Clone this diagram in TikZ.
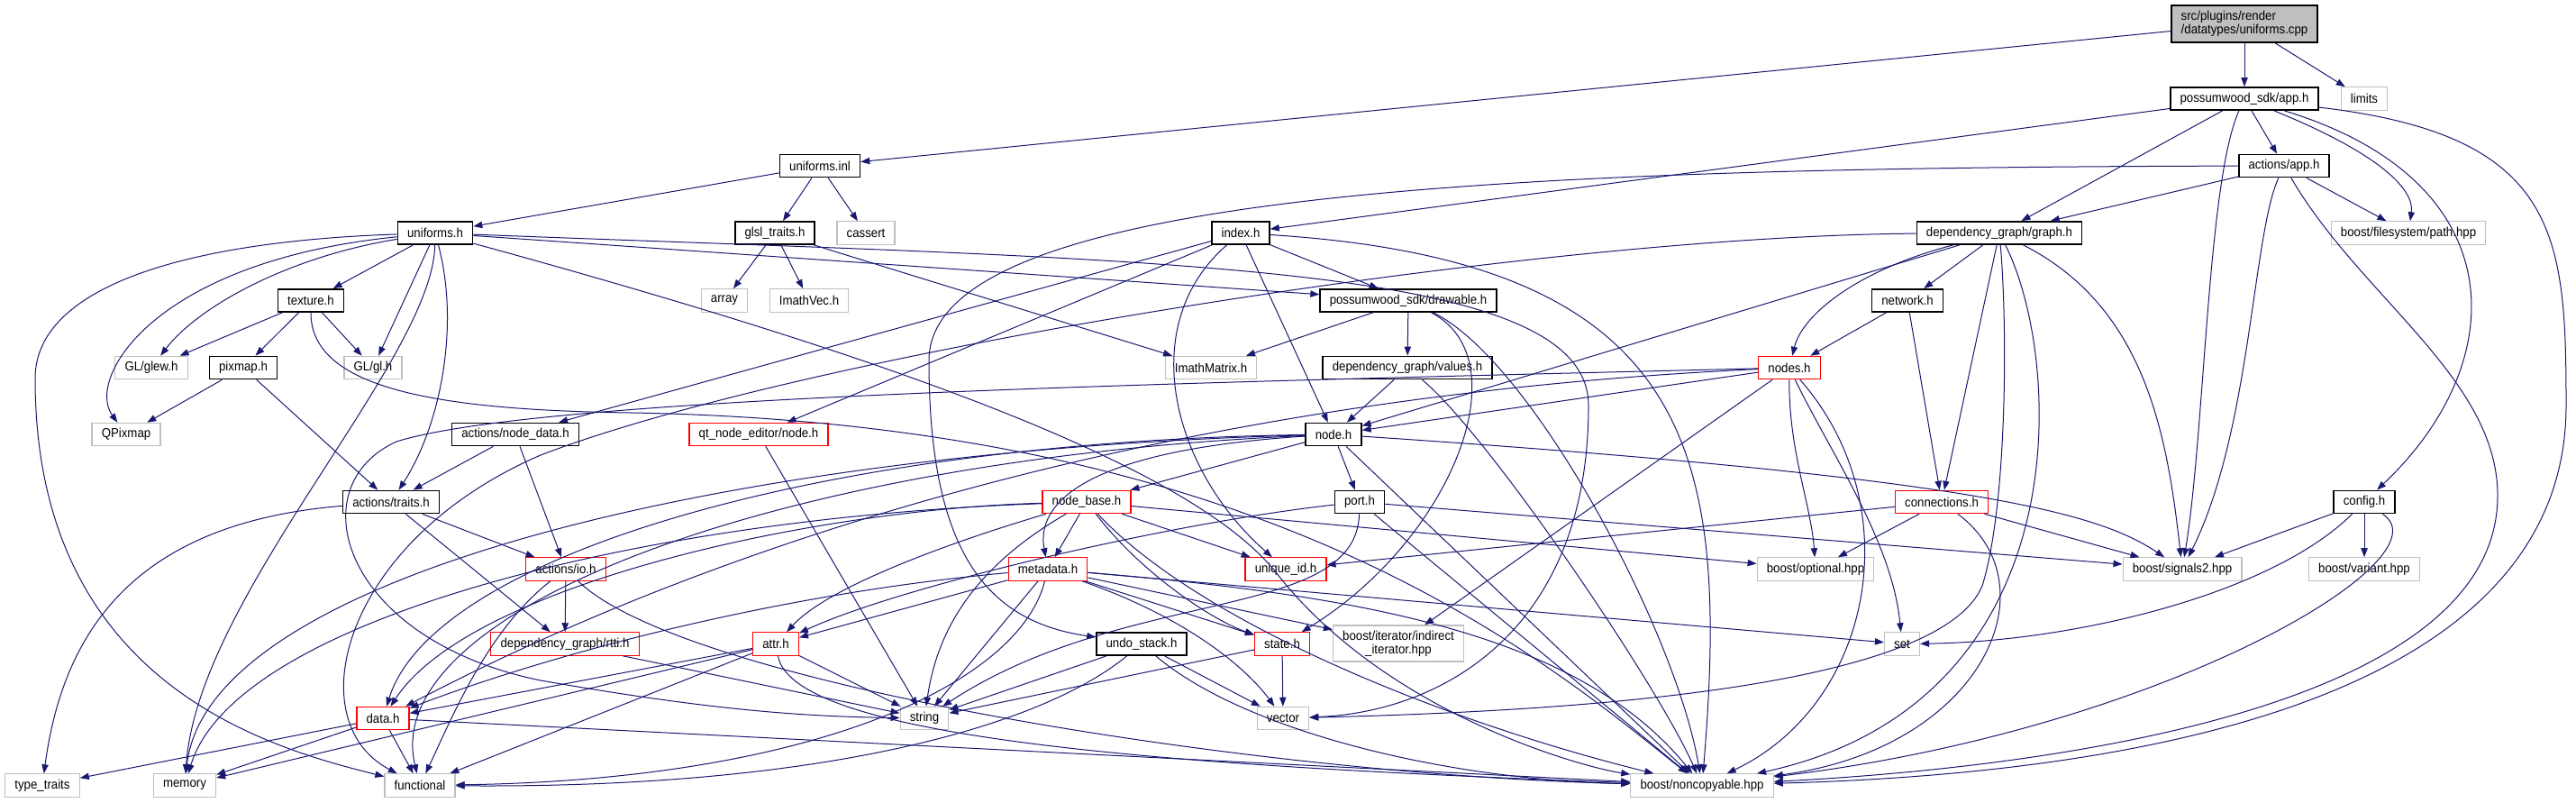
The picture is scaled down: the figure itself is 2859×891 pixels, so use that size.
\documentclass[tikz,border=0pt]{standalone}
\usepackage{fontspec}
\setmainfont{Liberation Sans}[FakeStretch=0.92]
\usetikzlibrary{arrows.meta}

\definecolor{edgeblue}{RGB}{25,25,112}
\definecolor{sysgray}{RGB}{191,191,191}

\tikzset{every picture/.style={line width=0.75pt}}
\tikzset{
  hdr/.style={draw=black,line width=1.1pt,rectangle,inner xsep=8pt,inner ysep=2pt,minimum height=19pt,font=\fontsize{10.8}{11.5}\selectfont},
  hdrred/.style={hdr,draw=red,line width=0.9pt},
  hdrsys/.style={hdr,draw=sysgray,line width=0.9pt},
  incl/.style={draw=edgeblue,line width=0.75pt,-{Triangle[length=7.5pt,width=5.5pt]}}
}

\begin{document}
\begin{tikzpicture}[x=0.75pt,y=0.75pt,yscale=-1,xscale=1]
\useasboundingbox (0,0) rectangle (2859,891);

%Nodes
\node[hdr,fill=sysgray,align=left,minimum height=31pt] (root) at (2491,26.5) {src/plugins/render\\/datatypes/uniforms.cpp};
\node[hdr] (apph) at (2491,109.5) {possumwood\_sdk/app.h};
\node[hdrsys] (limits) at (2624,109.5) {limits};
\node[hdr] (inl) at (910,184) {uniforms.inl};
\node[hdr] (actapp) at (2535,184) {actions/app.h};
\node[hdr] (unih) at (483,258.5) {uniforms.h};
\node[hdr] (glsl) at (860,258.5) {glsl\_traits.h};
\node[hdrsys] (cassert) at (961,258.5) {cassert};
\node[hdr] (index) at (1377,258.5) {index.h};
\node[hdr] (graph) at (2219,258.5) {dependency\_graph/graph.h};
\node[hdrsys] (path) at (2673,258.5) {boost/filesystem/path.hpp};
\node[hdr] (texture) at (345,333.5) {texture.h};
\node[hdrsys] (array) at (804,333.5) {array};
\node[hdrsys] (imathvec) at (898,333.5) {ImathVec.h};
\node[hdr] (drawable) at (1563,333.5) {possumwood\_sdk/drawable.h};
\node[hdr] (network) at (2117,333.5) {network.h};
\node[hdrsys] (glew) at (168,408) {GL/glew.h};
\node[hdr] (pixmap) at (270,408) {pixmap.h};
\node[hdrsys] (gl) at (414,408) {GL/gl.h};
\node[hdrsys] (imathmatrix) at (1344,408) {ImathMatrix.h};
\node[hdr] (values) at (1562,408) {dependency\_graph/values.h};
\node[hdrred] (nodes) at (1986,408) {nodes.h};
\node[hdrsys] (qpixmap) at (140,482) {QPixmap};
\node[hdr] (nodedata) at (572,482) {actions/node\_data.h};
\node[hdrred] (qtnode) at (842,482) {qt\_node\_editor/node.h};
\node[hdr] (node) at (1480,482) {node.h};
\node[hdr] (traits) at (434,557) {actions/traits.h};
\node[hdrred] (nodebase) at (1206,557) {node\_base.h};
\node[hdr] (port) at (1509,557) {port.h};
\node[hdrred] (connections) at (2155,557) {connections.h};
\node[hdr] (config) at (2624,557) {config.h};
\node[hdrred] (io) at (628,631.5) {actions/io.h};
\node[hdrred] (metadata) at (1163,631.5) {metadata.h};
\node[hdrred] (uniqueid) at (1427,631.5) {unique\_id.h};
\node[hdrsys] (optional) at (2015,631.5) {boost/optional.hpp};
\node[hdrsys] (signals) at (2422,631.5) {boost/signals2.hpp};
\node[hdrsys] (variant) at (2624,631.5) {boost/variant.hpp};
\node[hdrred] (rtti) at (627,714.5) {dependency\_graph/rtti.h};
\node[hdrred] (attr) at (861,714.5) {attr.h};
\node[hdr] (undo) at (1267,714.5) {undo\_stack.h};
\node[hdrred] (state) at (1423,714.5) {state.h};
\node[hdrsys,align=center,minimum height=30pt] (indirect) at (1552,714) {boost/iterator/indirect\\\_iterator.hpp};
\node[hdrsys] (set) at (2111,714.5) {set};
\node[hdrred] (data) at (425,797) {data.h};
\node[hdrsys] (string) at (1026,797) {string};
\node[hdrsys] (vector) at (1424,797) {vector};
\node[hdrsys] (typetraits) at (47,871.5) {type\_traits};
\node[hdrsys] (memory) at (205,871.5) {memory};
\node[hdrsys] (functional) at (466,871.5) {functional};
\node[hdrsys] (noncopy) at (1889,871.5) {boost/noncopyable.hpp};

%Edges: uniforms.cpp
\draw[incl] (root) -- (inl);
\draw[incl] (root) -- (apph);
\draw[incl] (root) -- (limits);
%Edges: uniforms.inl
\draw[incl] (inl) -- (unih);
\draw[incl] (inl) -- (glsl);
\draw[incl] (inl) -- (cassert);
%Edges: glsl_traits.h
\draw[incl] (glsl) -- (array);
\draw[incl] (glsl) -- (imathvec);
\draw[incl] (glsl) -- (imathmatrix);
%Edges: possumwood_sdk/app.h
\draw[incl] (apph) -- (index);
\draw[incl] (apph) -- (graph);
\draw[incl] (apph) -- (actapp);
\draw[incl] (apph) .. controls (2640,170) and (2680,210) .. (path);
\draw[incl] (apph) .. controls (2450,200) and (2447,480) .. (signals);
\draw[incl] (apph) .. controls (2790,200) and (2790,400) .. (config);
\draw[incl] (apph) .. controls (2840,150) and (2848,260) .. (2848,450) .. controls (2848,800) and (2300,860) .. (noncopy);
%Edges: actions/app.h
\draw[incl] (actapp) -- (graph);
\draw[incl] (actapp) -- (path);
\draw[incl] (actapp) .. controls (2500,260) and (2498,480) .. (signals);
\draw[incl] (actapp) .. controls (2620,330) and (2772,420) .. (2772,550) .. controls (2772,780) and (2300,850) .. (noncopy);
\draw[incl] (actapp) .. controls (1700,186) and (1031,210) .. (1031,400) .. controls (1031,620) and (1100,690) .. (undo);
%Edges: index.h
\draw[incl] (index) -- (drawable);
\draw[incl] (index) -- (node);
\draw[incl] (index) -- (nodedata);
\draw[incl] (index) -- (qtnode);
\draw[incl] (index) .. controls (1260,360) and (1300,520) .. (uniqueid);
\draw[incl] (index) .. controls (1880,290) and (1920,500) .. (noncopy);
%Edges: uniforms.h
\draw[incl] (unih) -- (texture);
\draw[incl] (unih) .. controls (320,285) and (220,340) .. (glew);
\draw[incl] (unih) -- (gl);
\draw[incl] (unih) .. controls (170,290) and (95,420) .. (qpixmap);
\draw[incl] (unih) .. controls (200,268) and (39,320) .. (39,420) .. controls (39,760) and (300,830) .. (functional);
\draw[incl] (unih) .. controls (510,360) and (490,470) .. (traits);
\draw[incl] (unih) .. controls (480,400) and (220,660) .. (memory);
\draw[incl] (unih) -- (drawable);
\draw[incl] (unih) .. controls (1300,290) and (1763,290) .. (1763,450) .. controls (1763,700) and (1600,790) .. (vector);
\draw[incl] (unih) .. controls (1000,400) and (1330,520) .. (1420,640) .. controls (1540,790) and (1750,850) .. (noncopy);
%Edges: texture.h
\draw[incl] (texture) -- (glew);
\draw[incl] (texture) -- (pixmap);
\draw[incl] (texture) -- (gl);
\draw[incl] (texture) .. controls (345,430) and (480,455) .. (700,458) .. controls (1400,470) and (1700,720) .. (noncopy);
%Edges: pixmap.h
\draw[incl] (pixmap) -- (qpixmap);
\draw[incl] (pixmap) -- (traits);
%Edges: possumwood_sdk/drawable.h
\draw[incl] (drawable) -- (imathmatrix);
\draw[incl] (drawable) -- (values);
\draw[incl] (drawable) .. controls (1690,400) and (1610,600) .. (state);
\draw[incl] (drawable) .. controls (1700,400) and (1860,700) .. (noncopy);
%Edges: dependency_graph/values.h
\draw[incl] (values) -- (node);
\draw[incl] (values) .. controls (1650,480) and (1840,760) .. (noncopy);
%Edges: dependency_graph/graph.h
\draw[incl] (graph) -- (network);
\draw[incl] (graph) .. controls (2060,300) and (2000,350) .. (nodes);
\draw[incl] (graph) -- (node);
\draw[incl] (graph) -- (connections);
\draw[incl] (graph) .. controls (2228,360) and (2228,560) .. (2200,650) .. controls (2150,770) and (1700,790) .. (vector);
\draw[incl] (graph) .. controls (2290,400) and (2310,780) .. (noncopy);
\draw[incl] (graph) .. controls (2380,340) and (2405,480) .. (signals);
\draw[incl] (graph) .. controls (1700,262) and (900,390) .. (600,505) .. controls (380,600) and (330,800) .. (functional);
%Edges: network.h
\draw[incl] (network) -- (nodes);
\draw[incl] (network) -- (connections);
%Edges: nodes.h
\draw[incl] (nodes) -- (node);
\draw[incl] (nodes) .. controls (1300,425) and (600,440) .. (440,490) .. controls (330,540) and (380,710) .. (600,755) .. controls (800,790) and (900,795) .. (string);
\draw[incl] (nodes) .. controls (1300,440) and (800,600) .. (data);
\draw[incl] (nodes) -- (indirect);
\draw[incl] (nodes) .. controls (1985,500) and (2010,560) .. (optional);
\draw[incl] (nodes) .. controls (2030,500) and (2100,600) .. (set);
\draw[incl] (nodes) .. controls (2120,560) and (2080,780) .. (noncopy);
%Edges: node.h
\draw[incl] (node) -- (nodebase);
\draw[incl] (node) .. controls (1200,500) and (1150,560) .. (metadata);
\draw[incl] (node) -- (port);
\draw[incl] (node) .. controls (2200,530) and (2330,570) .. (signals);
\draw[incl] (node) -- (noncopy);
\draw[incl] (node) .. controls (900,490) and (480,620) .. (data);
\draw[incl] (node) .. controls (800,500) and (230,640) .. (memory);
\draw[incl] (node) .. controls (850,510) and (420,680) .. (functional);
%Edges: node_base.h
\draw[incl] (nodebase) -- (metadata);
\draw[incl] (nodebase) .. controls (1060,600) and (920,650) .. (attr);
\draw[incl] (nodebase) -- (uniqueid);
\draw[incl] (nodebase) .. controls (1270,640) and (1350,690) .. (state);
\draw[incl] (nodebase) .. controls (1080,630) and (1040,700) .. (string);
\draw[incl] (nodebase) -- (optional);
\draw[incl] (nodebase) .. controls (1330,690) and (1600,800) .. (noncopy);
\draw[incl] (nodebase) .. controls (900,565) and (520,650) .. (data);
\draw[incl] (nodebase) .. controls (700,575) and (260,690) .. (memory);
%Edges: port.h
\draw[incl] (port) .. controls (1300,580) and (1000,650) .. (attr);
\draw[incl] (port) .. controls (1505,690) and (1250,650) .. (string);
\draw[incl] (port) -- (signals);
\draw[incl] (port) -- (noncopy);
%Edges: connections.h
\draw[incl] (connections) -- (uniqueid);
\draw[incl] (connections) -- (optional);
\draw[incl] (connections) -- (signals);
\draw[incl] (connections) .. controls (2280,650) and (2200,830) .. (noncopy);
%Edges: config.h
\draw[incl] (config) -- (signals);
\draw[incl] (config) -- (variant);
\draw[incl] (config) .. controls (2520,660) and (2300,712) .. (set);
\draw[incl] (config) .. controls (2720,620) and (2400,810) .. (noncopy);
%Edges: actions
\draw[incl] (nodedata) -- (traits);
\draw[incl] (nodedata) -- (io);
\draw[incl] (traits) -- (io);
\draw[incl] (traits) -- (rtti);
\draw[incl] (traits) .. controls (150,580) and (70,700) .. (typetraits);
\draw[incl] (io) -- (rtti);
\draw[incl] (io) .. controls (540,700) and (500,800) .. (functional);
\draw[incl] (io) .. controls (760,760) and (1400,860) .. (noncopy);
\draw[incl] (rtti) -- (string);
\draw[incl] (qtnode) -- (string);
%Edges: metadata.h
\draw[incl] (metadata) -- (attr);
\draw[incl] (metadata) -- (state);
\draw[incl] (metadata) .. controls (1330,690) and (1390,750) .. (vector);
\draw[incl] (metadata) -- (indirect);
\draw[incl] (metadata) -- (set);
\draw[incl] (metadata) -- (string);
\draw[incl] (metadata) .. controls (1130,760) and (900,865) .. (functional);
\draw[incl] (metadata) .. controls (850,660) and (600,730) .. (data);
\draw[incl] (metadata) .. controls (1500,660) and (1750,700) .. (noncopy);
%Edges: attr.h
\draw[incl] (attr) -- (string);
\draw[incl] (attr) -- (data);
\draw[incl] (attr) -- (memory);
\draw[incl] (attr) -- (functional);
\draw[incl] (attr) .. controls (880,820) and (1300,850) .. (noncopy);
%Edges: undo_stack.h
\draw[incl] (undo) -- (string);
\draw[incl] (undo) -- (vector);
\draw[incl] (undo) .. controls (1150,810) and (900,875) .. (functional);
\draw[incl] (undo) .. controls (1380,810) and (1600,865) .. (noncopy);
%Edges: state.h
\draw[incl] (state) -- (vector);
\draw[incl] (state) -- (string);
%Edges: data.h
\draw[incl] (data) -- (typetraits);
\draw[incl] (data) -- (memory);
\draw[incl] (data) -- (functional);
\draw[incl] (data) -- (noncopy);

\end{tikzpicture}
\end{document}
